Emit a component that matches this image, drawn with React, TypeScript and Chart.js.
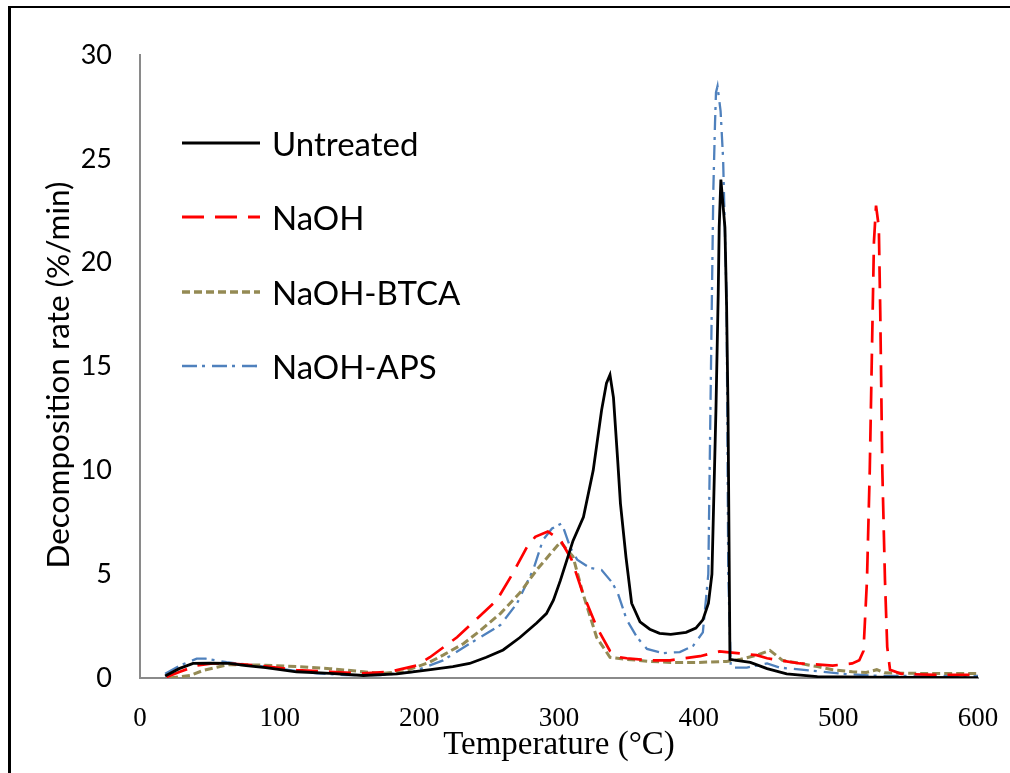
import React, { useEffect, useRef } from "react";
import { Chart, registerables } from "chart.js";

Chart.register(...registerables);

// ---- Data (temperature °C / decomposition rate %/min) ----
const untreatedT = [18, 28, 38, 50, 64, 76, 90, 112, 136, 160, 184, 208, 224, 236, 248, 260, 272, 284, 291, 296, 301, 305.5, 310, 317.5, 324.5, 330.5, 334, 336.5, 339, 342, 344, 348, 352, 358, 365, 372, 380, 391, 398, 403, 407, 409.5, 412.4, 414, 414.7, 415.9, 418.8, 420, 421, 422.4, 427, 437, 449, 463, 485, 520, 560, 600];
const untreatedV = [0.1, 0.45, 0.7, 0.72, 0.7, 0.6, 0.5, 0.3, 0.22, 0.12, 0.2, 0.4, 0.55, 0.7, 1.0, 1.35, 1.95, 2.65, 3.1, 3.75, 4.7, 5.65, 6.6, 7.75, 10.0, 12.9, 14.2, 14.6, 13.5, 10.5, 8.4, 5.8, 3.6, 2.7, 2.35, 2.15, 2.1, 2.2, 2.4, 2.8, 3.6, 5.0, 13, 18.5, 21.7, 24.0, 21.7, 17.9, 13, 0.9, 0.85, 0.75, 0.45, 0.2, 0.07, 0.04, 0.03, 0.02];

const naohT = [19, 28.6, 40.6, 52, 64, 88, 112, 136, 160, 179, 198, 207.6, 227, 242, 255.5, 267, 277, 283, 292, 301, 309, 317, 327, 336.5, 343.7, 348.5, 365, 379.5, 401, 415, 420, 441.5, 449, 472.5, 496, 510, 515, 518, 520.5, 522.5, 524.6, 525.5, 527, 529, 530, 531.5, 533.4, 535, 537, 545, 570, 600];
const naohV = [0.05, 0.3, 0.6, 0.7, 0.7, 0.58, 0.38, 0.3, 0.22, 0.3, 0.6, 1.0, 1.96, 2.9, 3.75, 5.05, 6.3, 6.8, 7.05, 6.65, 5.7, 4.1, 2.45, 1.3, 1.0, 0.95, 0.85, 0.85, 1.05, 1.28, 1.25, 1.1, 0.95, 0.7, 0.6, 0.7, 0.85, 1.3, 4.7, 10, 17.7, 21, 22.75, 21.7, 17.7, 10, 4.7, 1.5, 0.4, 0.2, 0.15, 0.15];

const btcaT = [21.5, 36, 45, 55, 64, 88, 112, 136, 160, 172, 188.5, 207.6, 217, 231.5, 242, 258, 272, 284, 296, 301, 310, 317, 327, 336.5, 348, 365, 380, 400, 420, 430, 441.5, 451, 460, 472.5, 485, 496, 510, 520, 527.5, 533, 560, 600];
const btcaV = [0.0, 0.12, 0.36, 0.52, 0.65, 0.62, 0.55, 0.45, 0.3, 0.22, 0.3, 0.77, 1.1, 1.65, 2.2, 3.1, 4.1, 5.2, 6.15, 6.55, 5.85, 4.1, 1.95, 1.0, 0.9, 0.8, 0.75, 0.75, 0.8, 0.9, 1.1, 1.33, 0.85, 0.7, 0.55, 0.4, 0.3, 0.27, 0.4, 0.25, 0.22, 0.22];

const apsT = [18, 28.6, 40.6, 47, 62, 83.5, 105, 126.5, 148, 172, 195.6, 217, 236, 258, 270, 281.5, 288.5, 295, 302, 308, 313, 322, 330.5, 338, 342, 348.5, 356, 363, 374.5, 386.5, 396, 403, 406.9, 409.6, 410.5, 411.7, 412.4, 413.5, 415.7, 417.5, 418.9, 420, 421.2, 423, 434.5, 449, 458, 480, 503, 530, 600];
const apsV = [0.2, 0.6, 0.93, 0.93, 0.76, 0.6, 0.4, 0.22, 0.14, 0.14, 0.3, 0.85, 1.65, 2.55, 3.6, 5.2, 6.65, 7.2, 7.45, 6.3, 5.7, 5.3, 5.2, 4.6, 4.1, 2.8, 1.95, 1.4, 1.2, 1.25, 1.55, 2.2, 5.0, 19, 23.5, 26.7, 28.2, 28.5, 27.3, 25, 21.2, 18.2, 5, 0.5, 0.5, 0.7, 0.5, 0.36, 0.2, 0.1, 0.1];

const seriesNames = ["Untreated", "NaOH", "NaOH-BTCA", "NaOH-APS"];
const xTickValues = [0, 100, 200, 300, 400, 500, 600];
const yTickValues = [0, 5, 10, 15, 20, 25, 30];
const xTitle = "Temperature (°C)";
const yTitle = "Decomposition rate (%/min)";

// ---- Styles ----
const colors = ["#000000", "#FF0000", "#948A54", "#4F81BD"];
const widths = [2.8, 2.7, 3, 2.3];
const dashes: number[][] = [[], [22, 11], [8, 4], [15, 5, 3, 7]];
const legendY = [143, 217, 292, 366];

const toPts = (t: number[], v: number[]) => t.map((x, i) => ({ x, y: v[i] }));

export default function App() {
  const ref = useRef<HTMLCanvasElement | null>(null);

  useEffect(() => {
    document.body.style.margin = "0";
    const seriesT = [untreatedT, naohT, btcaT, apsT];
    const seriesV = [untreatedV, naohV, btcaV, apsV];
    const chart = new Chart(ref.current as HTMLCanvasElement, {
      type: "line",
      data: {
        datasets: seriesNames.map((name, i) => ({
          label: name,
          data: toPts(seriesT[i], seriesV[i]),
          borderColor: colors[i],
          backgroundColor: colors[i],
          borderWidth: widths[i],
          borderDash: dashes[i],
          pointRadius: 0,
          tension: 0,
          fill: false,
        })),
      },
      options: {
        animation: false,
        responsive: false,
        devicePixelRatio: 1,
        layout: { padding: { top: 55, right: 32, left: 0, bottom: 0 } },
        plugins: { legend: { display: false }, tooltip: { enabled: false } },
        scales: {
          x: {
            type: "linear",
            min: 0,
            max: 600,
            afterBuildTicks: (s: any) => {
              s.ticks = xTickValues.map((v) => ({ value: v }));
            },
            afterFit: (s: any) => {
              s.height = 95;
              s.paddingRight = 0;
              s.paddingLeft = 0;
            },
            grid: { display: false, drawTicks: false },
            border: { display: true, color: "#8a8a8a", width: 2 },
            ticks: {
              color: "#000",
              padding: 27,
              maxRotation: 0,
              font: { family: "'Liberation Serif', serif", size: 27, lineHeight: 1 },
            },
            title: {
              display: true,
              text: xTitle,
              color: "#000",
              padding: { top: 0, bottom: 11 },
              font: { family: "'Liberation Serif', serif", size: 33, lineHeight: 1 },
            },
          },
          y: {
            type: "linear",
            min: 0,
            max: 30,
            afterBuildTicks: (s: any) => {
              s.ticks = yTickValues.map((v) => ({ value: v }));
            },
            afterFit: (s: any) => {
              s.width = 140;
            },
            grid: { display: false, drawTicks: false },
            border: { display: true, color: "#8a8a8a", width: 2 },
            ticks: {
              color: "#000",
              padding: 28,
              font: { family: "Lato, sans-serif", size: 27, lineHeight: 1 },
            },
            title: { display: false, text: yTitle },
          },
        },
      },
    } as any);
    return () => chart.destroy();
  }, []);

  return (
    <div style={{ position: "relative", width: 1010, height: 773, background: "#fff", overflow: "hidden" }}>
      <canvas ref={ref} width={1010} height={773} style={{ display: "block", width: 1010, height: 773 }} />
      <svg
        width={1010}
        height={773}
        style={{ position: "absolute", left: 0, top: 0, pointerEvents: "none" }}
      >
        <line x1={8} y1={7} x2={1010} y2={7} stroke="#000" strokeWidth={2} />
        <line x1={9.5} y1={6} x2={9.5} y2={773} stroke="#000" strokeWidth={3} />
        <text
          x={57}
          y={375}
          transform="rotate(-90 57 375)"
          textAnchor="middle"
          dominantBaseline="central"
          fontFamily="Lato, sans-serif"
          fontSize={31.5}
          fill="#000"
        >
          {yTitle}
        </text>
        {seriesNames.map((name, i) => (
          <g key={name}>
            <line
              x1={182}
              y1={legendY[i]}
              x2={260}
              y2={legendY[i]}
              stroke={colors[i]}
              strokeWidth={widths[i] + 0.4}
              strokeDasharray={dashes[i].length ? dashes[i].join(" ") : undefined}
            />
            <text
              x={272}
              y={legendY[i]}
              dominantBaseline="central"
              fontFamily="Lato, sans-serif"
              fontSize={33}
              fill="#000"
            >
              {name}
            </text>
          </g>
        ))}
      </svg>
    </div>
  );
}
